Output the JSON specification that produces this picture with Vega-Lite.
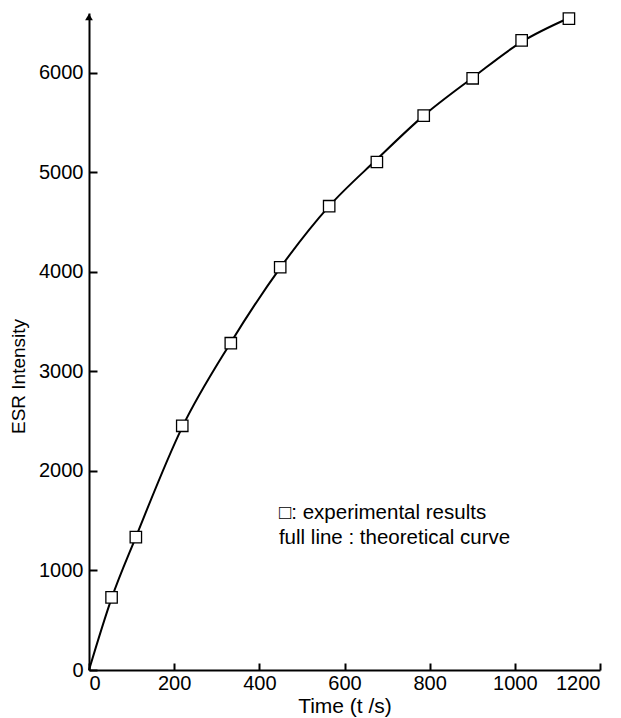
{
  "$schema": "https://vega.github.io/schema/vega-lite/v6.json",
  "autosize": "none",
  "width": 511,
  "height": 657,
  "padding": {"left": 89, "top": 13, "right": 21, "bottom": 48},
  "background": "white",
  "config": {
    "view": {"stroke": null},
    "font": "Liberation Sans",
    "axis": {"grid": false, "domainColor": "black", "domainWidth": 2, "tickColor": "black", "tickWidth": 2, "labelColor": "black", "titleColor": "black", "labelFont": "Liberation Sans", "titleFont": "Liberation Sans", "labelFontSize": 20, "titleFontSize": 19, "titleFontWeight": "normal"}
  },
  "resolve": {"axis": {"x": "independent", "y": "independent"}},
  "datasets": {
    "exp": [
      {"t": 53, "esr": 730},
      {"t": 110, "esr": 1335},
      {"t": 219, "esr": 2453},
      {"t": 333, "esr": 3283},
      {"t": 449, "esr": 4046},
      {"t": 564, "esr": 4659},
      {"t": 676, "esr": 5103},
      {"t": 786, "esr": 5569},
      {"t": 901, "esr": 5944},
      {"t": 1016, "esr": 6325},
      {"t": 1127, "esr": 6543}
    ],
    "theory": [
      {"t": 0, "esr": 0},
      {"t": 53, "esr": 720},
      {"t": 110, "esr": 1335},
      {"t": 219, "esr": 2440},
      {"t": 333, "esr": 3290},
      {"t": 449, "esr": 4040},
      {"t": 564, "esr": 4660},
      {"t": 676, "esr": 5130},
      {"t": 786, "esr": 5569},
      {"t": 901, "esr": 5950},
      {"t": 1016, "esr": 6310},
      {"t": 1127, "esr": 6550}
    ],
    "legend": [
      {"t": 446, "esr": 1580, "label": "□: experimental results"},
      {"t": 446, "esr": 1325, "label": "full line : theoretical curve"}
    ],
    "arrow": [{"t": 0, "esr": 6560}]
  },
  "layer": [
    {
      "data": {"name": "theory"},
      "mark": {"type": "line", "color": "black", "strokeWidth": 2, "interpolate": "monotone"},
      "encoding": {
        "x": {"field": "t", "type": "quantitative", "scale": {"domain": [0, 1200], "nice": false},
          "axis": {"values": [0, 200, 400, 600, 800, 1000, 1200], "format": "d", "ticks": false, "labelPadding": 3, "title": "Time (t /s)", "titleFontSize": 21, "titleY": 36, "titleBaseline": "middle"}},
        "y": {"field": "esr", "type": "quantitative", "scale": {"domain": [0, 6600], "nice": false},
          "axis": {"values": [0, 1000, 2000, 3000, 4000, 5000, 6000], "format": "d", "ticks": false, "labelPadding": 6, "title": "ESR Intensity", "titleX": -71, "titleY": 363, "titleBaseline": "middle", "titleAngle": -90}}
      }
    },
    {
      "data": {"name": "exp"},
      "mark": {"type": "point", "shape": "square", "size": 130, "filled": true, "fill": "white", "stroke": "black", "strokeWidth": 1.3, "opacity": 1},
      "encoding": {
        "x": {"field": "t", "type": "quantitative",
          "axis": {"orient": "top", "offset": -657, "values": [0, 200, 400, 600, 800, 1000, 1200], "ticks": true, "tickSize": 7, "labels": false, "domain": false, "title": null}},
        "y": {"field": "esr", "type": "quantitative",
          "axis": {"orient": "right", "offset": -511, "values": [0, 1000, 2000, 3000, 4000, 5000, 6000], "ticks": true, "tickSize": 8, "labels": false, "domain": false, "title": null}}
      }
    },
    {
      "data": {"name": "arrow"},
      "mark": {"type": "point", "shape": "triangle-up", "size": 60, "filled": true, "color": "black", "opacity": 1},
      "encoding": {
        "x": {"field": "t", "type": "quantitative", "axis": null},
        "y": {"field": "esr", "type": "quantitative", "axis": null}
      }
    },
    {
      "data": {"name": "legend"},
      "mark": {"type": "text", "align": "left", "baseline": "middle", "fontSize": 20.5, "font": "Liberation Sans", "color": "black"},
      "encoding": {
        "x": {"field": "t", "type": "quantitative", "axis": null},
        "y": {"field": "esr", "type": "quantitative", "axis": null},
        "text": {"field": "label"}
      }
    }
  ]
}
